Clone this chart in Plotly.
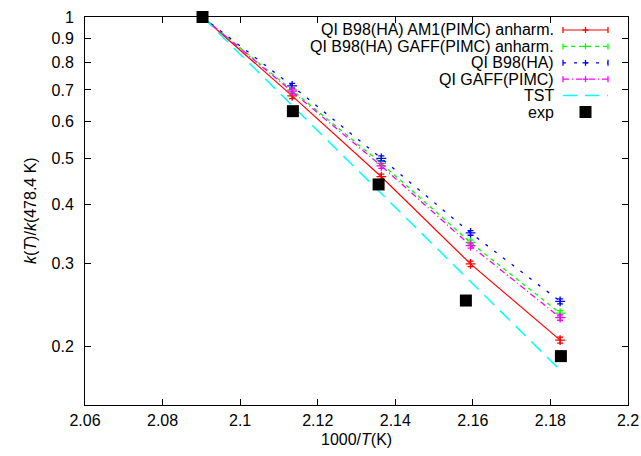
import math
import plotly.graph_objects as go

# ---- data ----
x_model = [2.0903, 2.1134, 2.1364, 2.1594, 2.1825]
x_exp = [2.0903, 2.1136, 2.1357, 2.1582, 2.1827]

am1_anharm = [1.0, 0.680, 0.458, 0.299, 0.206]
am1_err = [0.0, 0.009, 0.006, 0.004, 0.003]
gaff_anharm = [1.0, 0.700, 0.489, 0.332, 0.235]
gaff_anharm_err = [0.0, 0.008, 0.005, 0.004, 0.003]
b98_ha = [1.0, 0.714, 0.501, 0.348, 0.249]
b98_err = [0.0, 0.009, 0.006, 0.004, 0.003]
gaff_pimc = [1.0, 0.696, 0.483, 0.327, 0.230]
gaff_pimc_err = [0.0, 0.009, 0.006, 0.004, 0.003]
tst = [1.0, 0.649, 0.422, 0.275, 0.178]
exp = [1.0, 0.631, 0.441, 0.250, 0.1905]

series_names = ["QI B98(HA) AM1(PIMC) anharm.", "QI B98(HA) GAFF(PIMC) anharm.",
                "QI B98(HA)", "QI GAFF(PIMC)", "TST", "exp"]

x_tickvals = [2.06, 2.08, 2.10, 2.12, 2.14, 2.16, 2.18, 2.20]
x_ticktext = ["2.06", "2.08", "2.1", "2.12", "2.14", "2.16", "2.18", "2.2"]
y_tickvals = [0.2, 0.3, 0.4, 0.5, 0.6, 0.7, 0.8, 0.9, 1.0]
y_ticktext = ["0.2", "0.3", "0.4", "0.5", "0.6", "0.7", "0.8", "0.9", "1"]

FONT = "Liberation Sans, Arial, sans-serif"
FS = 16

styles = [
    dict(color="#ff0000", dash="solid", width=1.2),
    dict(color="#00ff00", dash="4px,4px", width=1.3),
    dict(color="#0000ff", dash="3px,8px", width=1.3),
    dict(color="#ff00ff", dash="6px,3px,1px,3px", width=1.3),
    dict(color="#00ffff", dash="14px,8px", width=1.5),
]

fig = go.Figure()

model_series = [(am1_anharm, am1_err), (gaff_anharm, gaff_anharm_err),
                (b98_ha, b98_err), (gaff_pimc, gaff_pimc_err)]
for i, (vals, errs) in enumerate(model_series):
    st = styles[i]
    fig.add_trace(go.Scatter(
        x=x_model, y=vals, mode="lines+markers", name=series_names[i],
        line=dict(color=st["color"], width=st["width"], dash=st["dash"]),
        marker=dict(symbol="cross-thin", size=7,
                    line=dict(color=st["color"], width=1.3)),
        error_y=dict(type="data", array=errs, visible=True,
                     color=st["color"], thickness=1.3, width=3),
        showlegend=False))

fig.add_trace(go.Scatter(
    x=x_model, y=tst, mode="lines", name=series_names[4],
    line=dict(color=styles[4]["color"], width=styles[4]["width"], dash=styles[4]["dash"]),
    showlegend=False))

fig.add_trace(go.Scatter(
    x=x_exp, y=exp, mode="markers", name=series_names[5],
    marker=dict(symbol="square", size=12, color="black",
                line=dict(width=0)),
    showlegend=False, cliponaxis=False))

# ---- custom legend (text left, sample right, as in gnuplot) ----
L, R, T, B = 85, 628, 17, 405
W, H = R - L, B - T


def px2x(px):
    return (px - L) / W


def py2y(py):
    return (B - py) / H


rows_py = [30, 46.4, 62.8, 79.2, 95.6, 112]
text_x = px2x(555)
lx0, lx1, lxm = px2x(563), px2x(608), px2x(585.5)

shapes = []
annotations = []
for i, name in enumerate(series_names):
    ry = py2y(rows_py[i])
    annotations.append(dict(text=name, x=text_x, y=ry, xref="paper", yref="paper",
                            xanchor="right", yanchor="middle", showarrow=False,
                            borderpad=0,
                            font=dict(family=FONT, size=FS, color="black")))
    if i < 5:
        st = styles[i]
        shapes.append(dict(type="line", xref="paper", yref="paper",
                           x0=lx0, x1=lx1, y0=ry, y1=ry,
                           line=dict(color=st["color"], width=st["width"], dash=st["dash"])))
    if i < 4:
        col = styles[i]["color"]
        for xx in (lx0, lx1, lxm):
            shapes.append(dict(type="line", xref="paper", yref="paper",
                               ysizemode="pixel", yanchor=ry, y0=-3, y1=3,
                               x0=xx, x1=xx, line=dict(color=col, width=1.3)))
        shapes.append(dict(type="line", xref="paper", yref="paper",
                           xsizemode="pixel", xanchor=lxm, x0=-3, x1=3,
                           y0=ry, y1=ry, line=dict(color=col, width=1.3)))
    if i == 5:
        shapes.append(dict(type="rect", xref="paper", yref="paper",
                           xsizemode="pixel", ysizemode="pixel",
                           xanchor=lxm, yanchor=ry, x0=-6, x1=6, y0=-6, y1=6,
                           fillcolor="black", line=dict(width=0)))

# axis titles
annotations.append(dict(text="1000/<i>T</i>(K)", x=0.5, y=py2y(440),
                        xref="paper", yref="paper", xanchor="center", yanchor="middle",
                        showarrow=False, font=dict(family=FONT, size=FS, color="black")))
annotations.append(dict(text="<i>k</i>(<i>T</i>)/<i>k</i>(478.4 K)", x=px2x(30), y=0.5,
                        xref="paper", yref="paper", xanchor="center", yanchor="middle",
                        textangle=-90, showarrow=False,
                        font=dict(family=FONT, size=FS, color="black")))

fig.update_layout(
    width=641, height=456, autosize=False,
    margin=dict(l=L, r=641 - R, t=T, b=456 - B, pad=0, autoexpand=False),
    paper_bgcolor="white", plot_bgcolor="white",
    font=dict(family=FONT, size=FS, color="black"),
    shapes=shapes, annotations=annotations,
    xaxis=dict(range=[2.06, 2.20], tickvals=x_tickvals, ticktext=x_ticktext,
               ticks="inside", ticklen=6, tickcolor="black", tickwidth=1,
               showline=True, linecolor="black", linewidth=1, mirror="allticks",
               showgrid=False, zeroline=False, ticklabelstandoff=1,
               automargin=False),
    yaxis=dict(type="log", range=[math.log10(0.15), 0], tickvals=y_tickvals,
               ticktext=y_ticktext,
               ticks="inside", ticklen=6, tickcolor="black", tickwidth=1,
               showline=True, linecolor="black", linewidth=1, mirror="allticks",
               showgrid=False, zeroline=False, ticklabelstandoff=7,
               automargin=False),
)

fig.write_html(
    "out.html",
    config={"displayModeBar": False},
    post_script="document.body.style.margin='0';document.body.style.overflow='hidden';")
